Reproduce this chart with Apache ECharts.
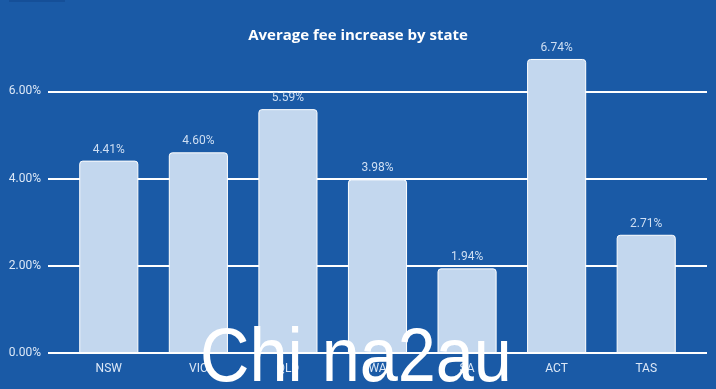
<!DOCTYPE html>
<html><head><meta charset="utf-8">
<script src="https://cdn.jsdelivr.net/npm/echarts@6/dist/echarts.min.js"></script>
<style>html,body{margin:0;padding:0;background:#1a5aa6;}#c{width:716px;height:389px;}</style>
</head><body><div id="c"></div>
<script>
const categories = ['NSW','VIC','QLD','WA','SA','ACT','TAS'];
const values = [4.41, 4.60, 5.59, 3.98, 1.94, 6.74, 2.71];
const yTicks = [0, 2, 4, 6];

const chart = echarts.init(document.getElementById('c'));
chart.setOption({
  backgroundColor: '#1a5aa6',
  animation: false,
  title: {
    text: 'Average fee increase by state',
    left: 'center', top: 23,
    textStyle: {color: '#ffffff', fontSize: 15, fontWeight: 'bold', fontFamily: 'Open Sans'}
  },
  grid: [
    {left: 48, right: 9, top: 4, bottom: 36},
    {left: 64, right: 25, top: 4, bottom: 36}
  ],
  xAxis: [
    {type: 'category', gridIndex: 0, data: categories, show: false},
    {
      type: 'category', gridIndex: 1, data: categories,
      axisLine: {show: false}, axisTick: {show: false},
      axisLabel: {color: '#dce8f7', fontSize: 12, fontFamily: 'Roboto', margin: 10}
    }
  ],
  yAxis: [
    {
      type: 'value', gridIndex: 0, min: 0, max: 8, interval: 2,
      axisLine: {show: false}, axisTick: {show: false},
      axisLabel: {color: '#dce8f7', fontSize: 12, fontFamily: 'Roboto', margin: 7,
        formatter: v => yTicks.includes(v) ? v.toFixed(2) + '%' : ''},
      splitLine: {lineStyle: {color: ['#ffffff','#ffffff','#ffffff','#ffffff','rgba(0,0,0,0)'], width: 2}}
    },
    {type: 'value', gridIndex: 1, min: 0, max: 8, interval: 2, show: false, splitLine: {show: false}}
  ],
  series: [{
    type: 'bar', data: values, xAxisIndex: 1, yAxisIndex: 1, barWidth: '66%', z: 3,
    itemStyle: {color: '#c3d7ee', borderColor: '#ffffff', borderWidth: 1, borderRadius: [3,3,0,0]},
    label: {show: true, position: 'top', distance: 5, color: '#cfdff3', fontSize: 12, fontFamily: 'Roboto',
      formatter: p => p.value.toFixed(2) + '%'}
  }],
  graphic: [
    {type: 'rect', left: 9, top: 0, shape: {width: 56, height: 2}, style: {fill: '#154f98'}},
    {type: 'text', x: 200, y: 322, scaleX: 0.9, z: 100,
      style: {text: 'Chi na2au', fill: '#ffffff', font: '76px "Liberation Sans"', verticalAlign: 'top', align: 'left'}}
  ]
});
</script></body></html>
